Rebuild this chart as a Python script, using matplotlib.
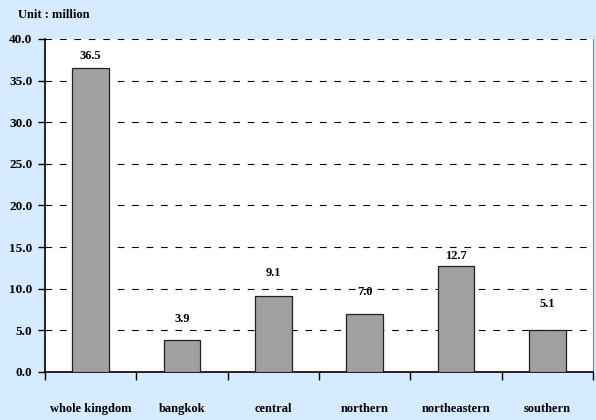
import matplotlib
matplotlib.use("Agg")
import matplotlib.pyplot as plt

regions = ["whole kingdom", "bangkok", "central", "northern", "northeastern", "southern"]
values = [36.5, 3.9, 9.1, 7.0, 12.7, 5.1]
y_ticks = [0.0, 5.0, 10.0, 15.0, 20.0, 25.0, 30.0, 35.0, 40.0]

# vertical gap (points) between each bar top and its value label
label_gap = [4.5, 10.5, 12.5, 11.5, 3.0, 14.0]

plt.rcParams["font.family"] = ["Liberation Serif", "DejaVu Serif"]
plt.rcParams["font.weight"] = "bold"

bg = "#D6EBFF"
fig = plt.figure(figsize=(5.96, 4.2), dpi=100, facecolor=bg)
ax = fig.add_axes([45 / 596, 1 - 372 / 420, 548 / 596, 333 / 420])
ax.set_facecolor("white")

x = list(range(len(regions)))
ax.bar(x, values, width=0.4, color="#A0A0A0", edgecolor="#202020", linewidth=0.9, zorder=3)

for xi, v, g in zip(x, values, label_gap):
    ax.annotate(f"{v:.1f}", (xi, v), xytext=(0, g), textcoords="offset points",
                ha="center", va="bottom", fontsize=9, fontweight="bold")

ax.set_xlim(-0.5, len(regions) - 0.5)
ax.set_ylim(0, 40)
ax.set_yticks(y_ticks)
ax.set_yticklabels([f"{t:.1f}" for t in y_ticks], fontsize=9.5, fontweight="bold")
ax.yaxis.grid(True, color="black", linestyle=(0, (6, 7)), linewidth=0.8, zorder=1)

# category boundary ticks with labels centred between them
ax.set_xticks([i - 0.5 for i in range(len(regions) + 1)])
ax.set_xticklabels([])
ax.set_xticks(x, minor=True)
ax.set_xticklabels(regions, minor=True, fontsize=9, fontweight="bold")
ax.tick_params(axis="x", which="major", length=6, width=1, direction="out")
ax.tick_params(axis="x", which="minor", length=0, pad=22)
ax.tick_params(axis="y", length=5, width=1, direction="out", pad=4)

ax.spines["top"].set_visible(False)
ax.spines["right"].set_color("#808080")
ax.spines["right"].set_linewidth(0.8)
ax.spines["left"].set_linewidth(1.2)
ax.spines["bottom"].set_linewidth(1.2)

fig.text(18 / 596, 1 - 15 / 420, "Unit : million", fontsize=9, fontweight="bold",
         ha="left", va="center")

fig.savefig("out.png", dpi=100, facecolor=bg)
